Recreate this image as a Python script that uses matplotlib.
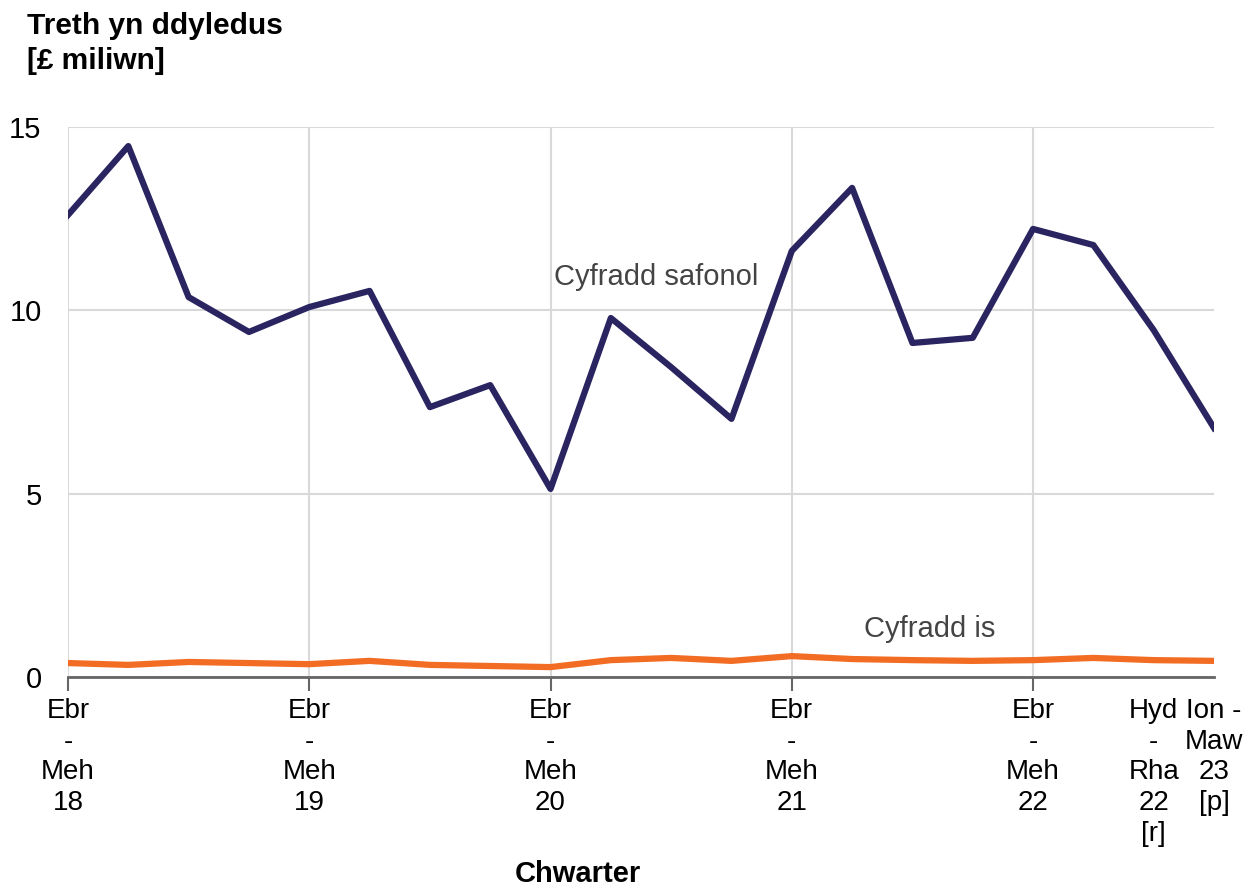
import matplotlib
matplotlib.use("Agg")
import matplotlib.pyplot as plt
import numpy as np

plt.rcParams['font.family'] = ['Liberation Sans', 'DejaVu Sans']

quarters = ["Ebr\n-\nMeh\n18", "", "", "", "Ebr\n-\nMeh\n19", "", "", "",
            "Ebr\n-\nMeh\n20", "", "", "", "Ebr\n-\nMeh\n21", "", "", "",
            "Ebr\n-\nMeh\n22", "", "Hyd\n-\nRha\n22\n[r]", "Ion -\nMaw\n23\n[p]"]
standard_rate = [12.6, 14.48, 10.36, 9.41, 10.09, 10.53, 7.36, 7.96, 5.13, 9.79,
                 8.45, 7.04, 11.62, 13.34, 9.11, 9.25, 12.22, 11.78, 9.46, 6.79]
reduced_rate = [0.38, 0.33, 0.41, 0.38, 0.35, 0.44, 0.33, 0.30, 0.27, 0.46,
                0.52, 0.44, 0.57, 0.49, 0.46, 0.44, 0.46, 0.52, 0.46, 0.44]
y_ticks = [0, 5, 10, 15]

navy = "#2a2460"
orange = "#f26c24"

fig = plt.figure(figsize=(12.44, 8.9), dpi=100)
ax = fig.add_axes([68/1244, 1-677/890, (1214-68)/1244, (677-127)/890])

x = np.arange(len(quarters))
ax.plot(x, standard_rate, color=navy, lw=4.5, zorder=3)
ax.plot(x, reduced_rate, color=orange, lw=4.5, zorder=3)

ax.set_xlim(0, len(quarters) - 1)
ax.set_ylim(0, 15)
ax.set_yticks(y_ticks)
ax.tick_params(axis='y', length=0, pad=19, labelsize=21)

major = [i for i in x if i % 4 == 0]
minor = [i for i in x if i % 4 != 0 and quarters[i]]
ax.set_xticks(major)
ax.set_xticklabels([quarters[i] for i in major], linespacing=1.24)
ax.set_xticks(minor, minor=True)
ax.set_xticklabels([quarters[i] for i in minor], minor=True, linespacing=1.24)
ax.tick_params(axis='x', which='major', length=10, width=1.5, color='#666666', labelsize=20, pad=5)
ax.tick_params(axis='x', which='minor', length=0, labelsize=20, pad=15)

ax.grid(True, color='#d9d9d9', lw=1.5, zorder=0)
ax.grid(False, which='minor')
for s in ['top', 'right', 'left']:
    ax.spines[s].set_visible(False)
ax.spines['bottom'].set_color('#666666')
ax.spines['bottom'].set_linewidth(2)
ax.spines['bottom'].set_zorder(4)

ax.text(8.05, 10.9, "Cyfradd safonol", color='#444444', fontsize=21, va='center', ha='left')
ax.text(13.2, 1.3, "Cyfradd is", color='#444444', fontsize=21, va='center', ha='left')

fig.text(27/1244, 1-12/890, "Treth yn ddyledus\n[£ miliwn]", fontsize=21.5, fontweight='bold',
         va='top', ha='left', linespacing=1.3)
fig.text(578/1244, 1-888/890, "Chwarter", fontsize=21, fontweight='bold', va='bottom', ha='center')

fig.savefig("out.png", dpi=100)
